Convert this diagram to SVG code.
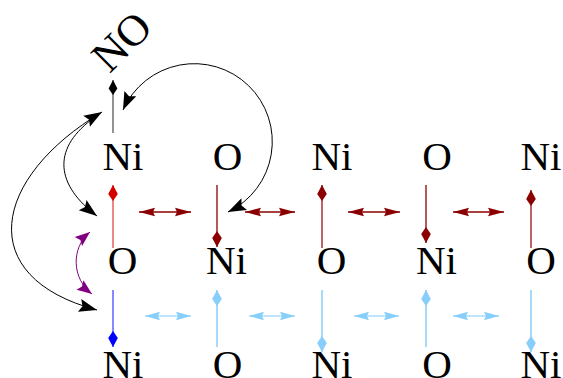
<svg xmlns="http://www.w3.org/2000/svg" width="563" height="378" viewBox="0 0 563 378">
<style>
text{font-family:"Liberation Serif","Times New Roman",serif;font-size:41px;fill:#000;text-anchor:middle}
.c{fill:none}
</style>
<defs>
<marker id="kr" markerUnits="userSpaceOnUse" viewBox="-18 -6 19 12" refX="0" refY="0" markerWidth="19" markerHeight="12" orient="auto"><path d="M0,0 L-9,-4.8 L-16,0 L-9,4.8 Z" fill="#d40000"/></marker>
<marker id="kd" markerUnits="userSpaceOnUse" viewBox="-18 -6 19 12" refX="0" refY="0" markerWidth="19" markerHeight="12" orient="auto"><path d="M0,0 L-9,-4.8 L-16,0 L-9,4.8 Z" fill="#8b0000"/></marker>
<marker id="kb" markerUnits="userSpaceOnUse" viewBox="-18 -6 19 12" refX="0" refY="0" markerWidth="19" markerHeight="12" orient="auto"><path d="M0,0 L-9,-4.8 L-16,0 L-9,4.8 Z" fill="#0000ff"/></marker>
<marker id="kl" markerUnits="userSpaceOnUse" viewBox="-18 -6 19 12" refX="0" refY="0" markerWidth="19" markerHeight="12" orient="auto"><path d="M0,0 L-9,-4.8 L-16,0 L-9,4.8 Z" fill="#87cefa"/></marker>
<marker id="kk" markerUnits="userSpaceOnUse" viewBox="-18 -6 19 12" refX="0" refY="0" markerWidth="19" markerHeight="12" orient="auto"><path d="M0,0 L-8.5,-4.4 L-15,0 L-8.5,4.4 Z" fill="#000"/></marker>
<marker id="td" markerUnits="userSpaceOnUse" viewBox="-18 -6 19 12" refX="0" refY="0" markerWidth="19" markerHeight="12" orient="auto-start-reverse"><path d="M0,0 L-16,-4.3 L-14,0 L-16,4.3 Z" fill="#8b0000"/></marker>
<marker id="tl" markerUnits="userSpaceOnUse" viewBox="-18 -6 19 12" refX="0" refY="0" markerWidth="19" markerHeight="12" orient="auto-start-reverse"><path d="M0,0 L-15,-4.3 L-13,0 L-15,4.3 Z" fill="#87cefa"/></marker>
<marker id="ab" markerUnits="userSpaceOnUse" viewBox="-19 -8 20 16" refX="0" refY="0" markerWidth="20" markerHeight="16" orient="auto-start-reverse"><path d="M0,0 L-18,-6.5 L-15,0 L-18,6.5 Z" fill="#000"/></marker>
<marker id="ap" markerUnits="userSpaceOnUse" viewBox="-17 -7 18 14" refX="0" refY="0" markerWidth="18" markerHeight="14" orient="auto-start-reverse"><path d="M0,0 L-15,-5.8 L-12.5,0 L-15,5.8 Z" fill="#800080"/></marker>
</defs>

<g id="nodes">
<g id="NO"><text transform="translate(122,42) rotate(-45)" x="0" y="14" style="font-size:44px">NO</text></g>
<g id="r1c1"><text x="123" y="170">Ni</text></g>
<g id="r1c2"><text x="227.5" y="170">O</text></g>
<g id="r1c3"><text x="332" y="170">Ni</text></g>
<g id="r1c4"><text x="437" y="170">O</text></g>
<g id="r1c5"><text x="541" y="170">Ni</text></g>
<g id="r2c1"><text x="122.5" y="274">O</text></g>
<g id="r2c2"><text x="226.5" y="274">Ni</text></g>
<g id="r2c3"><text x="331.5" y="274">O</text></g>
<g id="r2c4"><text x="436.5" y="274">Ni</text></g>
<g id="r2c5"><text x="541" y="274">O</text></g>
<g id="r3c1"><text x="123" y="378">Ni</text></g>
<g id="r3c2"><text x="227.5" y="378">O</text></g>
<g id="r3c3"><text x="332" y="378">Ni</text></g>
<g id="r3c4"><text x="437" y="378">O</text></g>
<g id="r3c5"><text x="541" y="378">Ni</text></g>
</g>

<g id="connectors">
<line x1="113" y1="133" x2="113" y2="80" stroke="#777" stroke-width="1.6" marker-end="url(#kk)"/>

<line x1="113" y1="248" x2="113" y2="185" stroke="#e87a7a" stroke-width="1.8" marker-end="url(#kr)"/>
<line x1="217" y1="185" x2="217" y2="247" stroke="#8b0000" stroke-width="1.3" marker-end="url(#kd)"/>
<line x1="322" y1="248" x2="322" y2="185" stroke="#a83030" stroke-width="1.5" marker-end="url(#kd)"/>
<line x1="426" y1="185" x2="426" y2="243" stroke="#8b0000" stroke-width="1.3" marker-end="url(#kd)"/>
<line x1="531" y1="248" x2="531" y2="190" stroke="#a83030" stroke-width="1.5" marker-end="url(#kd)"/>

<line x1="139" y1="212" x2="191" y2="212" stroke="#8b0000" stroke-width="1.3" marker-start="url(#td)" marker-end="url(#td)"/>
<line x1="245" y1="212" x2="295" y2="212" stroke="#8b0000" stroke-width="1.3" marker-start="url(#td)" marker-end="url(#td)"/>
<line x1="348" y1="212" x2="400" y2="212" stroke="#8b0000" stroke-width="1.3" marker-start="url(#td)" marker-end="url(#td)"/>
<line x1="453" y1="212" x2="504" y2="212" stroke="#8b0000" stroke-width="1.3" marker-start="url(#td)" marker-end="url(#td)"/>

<line x1="113" y1="290" x2="113" y2="347" stroke="#7a7aff" stroke-width="1.8" marker-end="url(#kb)"/>
<line x1="217" y1="347" x2="217" y2="290" stroke="#87cefa" stroke-width="1.5" marker-end="url(#kl)"/>
<line x1="322" y1="290" x2="322" y2="352" stroke="#87cefa" stroke-width="1.5" marker-end="url(#kl)"/>
<line x1="426" y1="347" x2="426" y2="290" stroke="#87cefa" stroke-width="1.5" marker-end="url(#kl)"/>
<line x1="531" y1="290" x2="531" y2="352" stroke="#87cefa" stroke-width="1.5" marker-end="url(#kl)"/>

<line x1="145" y1="316" x2="191" y2="316" stroke="#a8dcfb" stroke-width="1.5" marker-start="url(#tl)" marker-end="url(#tl)"/>
<line x1="249" y1="316" x2="295" y2="316" stroke="#a8dcfb" stroke-width="1.5" marker-start="url(#tl)" marker-end="url(#tl)"/>
<line x1="354" y1="316" x2="399" y2="316" stroke="#a8dcfb" stroke-width="1.5" marker-start="url(#tl)" marker-end="url(#tl)"/>
<line x1="453" y1="316" x2="499" y2="316" stroke="#a8dcfb" stroke-width="1.5" marker-start="url(#tl)" marker-end="url(#tl)"/>

<path class="c" d="M228,212 A78,78 0 1 0 123,110" stroke="#000" stroke-width="1" marker-start="url(#ab)" marker-end="url(#ab)"/>
<path class="c" d="M102,112 C-8,178 -27,277 97,310" stroke="#000" stroke-width="1" marker-start="url(#ab)" marker-end="url(#ab)"/>
<path class="c" d="M91,120 C52,150 56,185 97,216" stroke="#000" stroke-width="1" marker-end="url(#ab)"/>
<path class="c" d="M90,232 C70.5,248 72,279 92,294" stroke="#800080" stroke-width="1" marker-start="url(#ap)" marker-end="url(#ap)"/>
</g>
</svg>
